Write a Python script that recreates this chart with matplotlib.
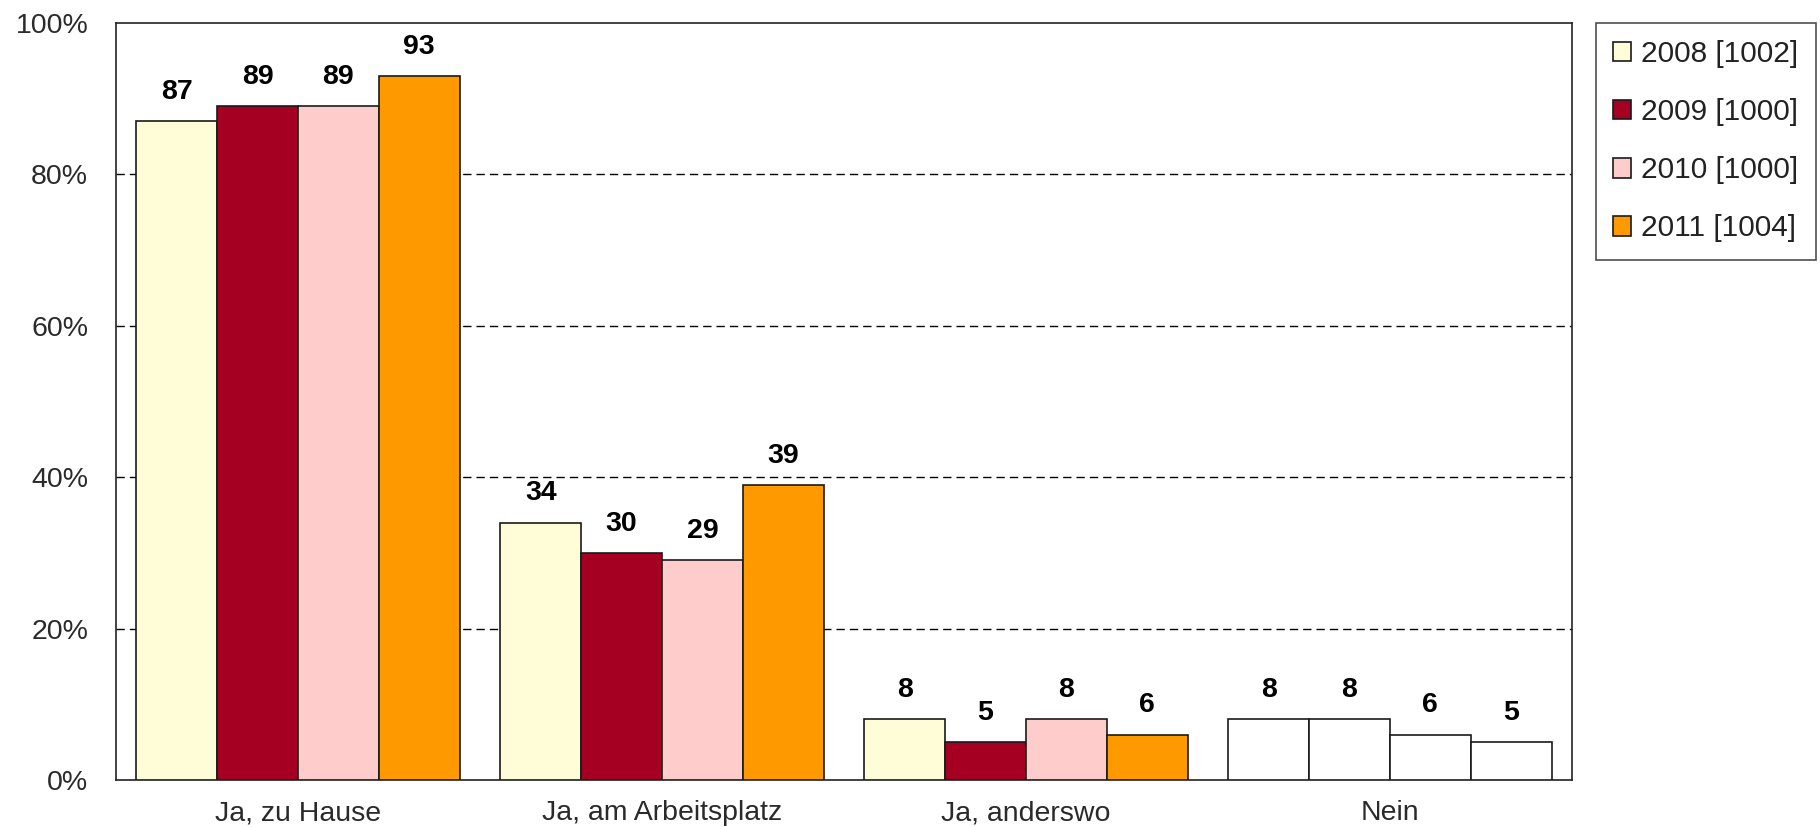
import matplotlib
matplotlib.use("Agg")
import matplotlib.pyplot as plt
import numpy as np

plt.rcParams['font.family'] = ['Liberation Sans', 'DejaVu Sans']

categories = ["Ja, zu Hause", "Ja, am Arbeitsplatz", "Ja, anderswo", "Nein"]
series_labels = ["2008 [1002]", "2009 [1000]", "2010 [1000]", "2011 [1004]"]
values_2008 = [87, 34, 8, 8]
values_2009 = [89, 30, 5, 8]
values_2010 = [89, 29, 8, 6]
values_2011 = [93, 39, 6, 5]
series_values = [values_2008, values_2009, values_2010, values_2011]
colors = ["#FFFCD8", "#A50021", "#FFCCCC", "#FF9900"]
white_category = "Nein"
yticks = [0, 20, 40, 60, 80, 100]
ytick_labels = ["0%", "20%", "40%", "60%", "80%", "100%"]

fig = plt.figure(figsize=(18.2, 8.27), dpi=100)
ax = fig.add_axes([0.0637, 0.0568, 0.8, 0.9154])

x = np.arange(len(categories))
width = 0.222
offsets = (np.arange(4) - 1.5) * width
edge = "#1a1a1a"
fs = 20.5

for i, (vals, col, lab) in enumerate(zip(series_values, colors, series_labels)):
    facecols = ["white" if c == white_category else col for c in categories]
    bars = ax.bar(x + offsets[i], vals, width, color=facecols, edgecolor=edge,
                  linewidth=1.2, label=lab, zorder=3)
    for b, v in zip(bars, vals):
        ax.annotate(f"{v}", (b.get_x() + b.get_width() / 2, v), xytext=(0, 16),
                    textcoords="offset points", ha="center", va="baseline",
                    fontsize=fs, fontweight="bold", color="black")

ax.set_xlim(-0.5, len(categories) - 0.5)
ax.set_ylim(0, 100)
ax.set_yticks(yticks)
ax.set_yticklabels(ytick_labels)
ax.set_xticks(x)
ax.set_xticklabels(categories)
ax.tick_params(axis='both', length=0, labelsize=fs, labelcolor="#2a2a2a")
ax.tick_params(axis='y', pad=20)
ax.tick_params(axis='x', pad=14.5)

for yv in yticks[1:-1]:
    ax.axhline(yv, color="black", linewidth=1.0, linestyle=(0, (6, 3.6)), zorder=1)

for s in ax.spines.values():
    s.set_color("#222222")
    s.set_linewidth(1.2)

leg = fig.legend(loc="upper left", bbox_to_anchor=(1596 / 1820, 1 - 23 / 827),
                 fontsize=21.5, frameon=True, fancybox=False, edgecolor="#222222",
                 handlelength=0.6, handleheight=0.62, handletextpad=0.35,
                 labelspacing=1.01, borderpad=0.57, borderaxespad=0,
                 labelcolor="#222222")
leg.get_frame().set_linewidth(1.2)
for h in leg.legend_handles:
    h.set_edgecolor(edge)

fig.savefig("out.png", dpi=100)
